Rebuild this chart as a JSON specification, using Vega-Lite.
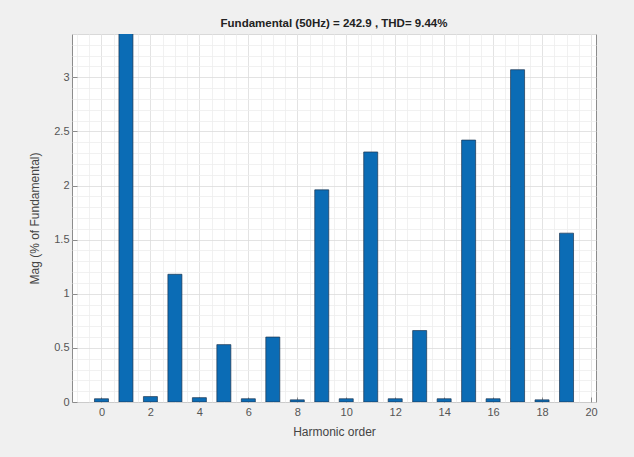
{
  "$schema": "https://vega.github.io/schema/vega-lite/v6.json",
  "autosize": {"type": "none"},
  "width": 524,
  "height": 368,
  "padding": {"left": 72, "top": 34, "right": 38, "bottom": 55},
  "background": "#f0f0f0",
  "config": {
    "view": {"fill": "white", "stroke": "#8c8c8c", "strokeWidth": 1},
    "font": "Liberation Sans",
    "axis": {"labelFont": "Liberation Sans", "titleFont": "Liberation Sans", "labelColor": "#555", "titleColor": "#444", "labelFontSize": 11, "titleFontSize": 12, "titleFontWeight": "normal", "domain": false}
  },
  "title": {"text": "Fundamental (50Hz) = 242.9 , THD= 9.44%", "fontSize": 11.5, "fontWeight": "bold", "color": "#222", "offset": 4, "font": "Liberation Sans"},
  "data": {"values": [
    {"order": 0, "mag": 0.03},
    {"order": 1, "mag": 100},
    {"order": 2, "mag": 0.05},
    {"order": 3, "mag": 1.18},
    {"order": 4, "mag": 0.04},
    {"order": 5, "mag": 0.53},
    {"order": 6, "mag": 0.03},
    {"order": 7, "mag": 0.6},
    {"order": 8, "mag": 0.02},
    {"order": 9, "mag": 1.96},
    {"order": 10, "mag": 0.03},
    {"order": 11, "mag": 2.31},
    {"order": 12, "mag": 0.03},
    {"order": 13, "mag": 0.66},
    {"order": 14, "mag": 0.03},
    {"order": 15, "mag": 2.42},
    {"order": 16, "mag": 0.03},
    {"order": 17, "mag": 3.07},
    {"order": 18, "mag": 0.02},
    {"order": 19, "mag": 1.56}
  ]},
  "mark": {"type": "bar", "size": 14, "color": "#0b6cb5", "stroke": "#1c3550", "strokeWidth": 0.7, "clip": true},
  "encoding": {
    "x": {
      "field": "order", "type": "quantitative",
      "scale": {"domain": [-1, 20], "nice": false, "zero": false},
      "axis": {
        "title": "Harmonic order",
        "titlePadding": 9,
        "format": "~g",
        "values": [-1, -0.5, 0, 0.5, 1, 1.5, 2, 2.5, 3, 3.5, 4, 4.5, 5, 5.5, 6, 6.5, 7, 7.5, 8, 8.5, 9, 9.5, 10, 10.5, 11, 11.5, 12, 12.5, 13, 13.5, 14, 14.5, 15, 15.5, 16, 16.5, 17, 17.5, 18, 18.5, 19, 19.5, 20],
        "labelExpr": "(datum.value >= 0 && datum.value % 2 === 0) ? datum.label : ''",
        "labelPadding": 9,
        "labelFlush": false,
        "gridColor": {"condition": {"test": "datum.value % 2 === 0", "value": "#dcdcdc"}, "value": "#eeeeee"},
        "gridWidth": 0.8,
        "tickColor": "#8c8c8c",
        "tickSize": {"condition": {"test": "datum.value >= 0 && datum.value % 2 === 0", "value": -5}, "value": 0}
      }
    },
    "y": {
      "field": "mag", "type": "quantitative",
      "scale": {"domain": [0, 3.4], "nice": false},
      "axis": {
        "title": "Mag (% of Fundamental)",
        "titlePadding": 12,
        "format": "~g",
        "values": [0, 0.1, 0.2, 0.3, 0.4, 0.5, 0.6, 0.7, 0.8, 0.9, 1, 1.1, 1.2, 1.3, 1.4, 1.5, 1.6, 1.7, 1.8, 1.9, 2, 2.1, 2.2, 2.3, 2.4, 2.5, 2.6, 2.7, 2.8, 2.9, 3, 3.1, 3.2, 3.3, 3.4],
        "labelExpr": "abs(datum.value * 2 - round(datum.value * 2)) < 0.001 ? datum.label : ''",
        "labelPadding": 8,
        "labelFlush": false,
        "gridColor": {"condition": {"test": "abs(datum.value * 2 - round(datum.value * 2)) < 0.001", "value": "#dcdcdc"}, "value": "#eeeeee"},
        "gridWidth": 0.8,
        "tickColor": "#8c8c8c",
        "tickSize": {"condition": {"test": "abs(datum.value * 2 - round(datum.value * 2)) < 0.001", "value": -5}, "value": 0}
      }
    }
  }
}
